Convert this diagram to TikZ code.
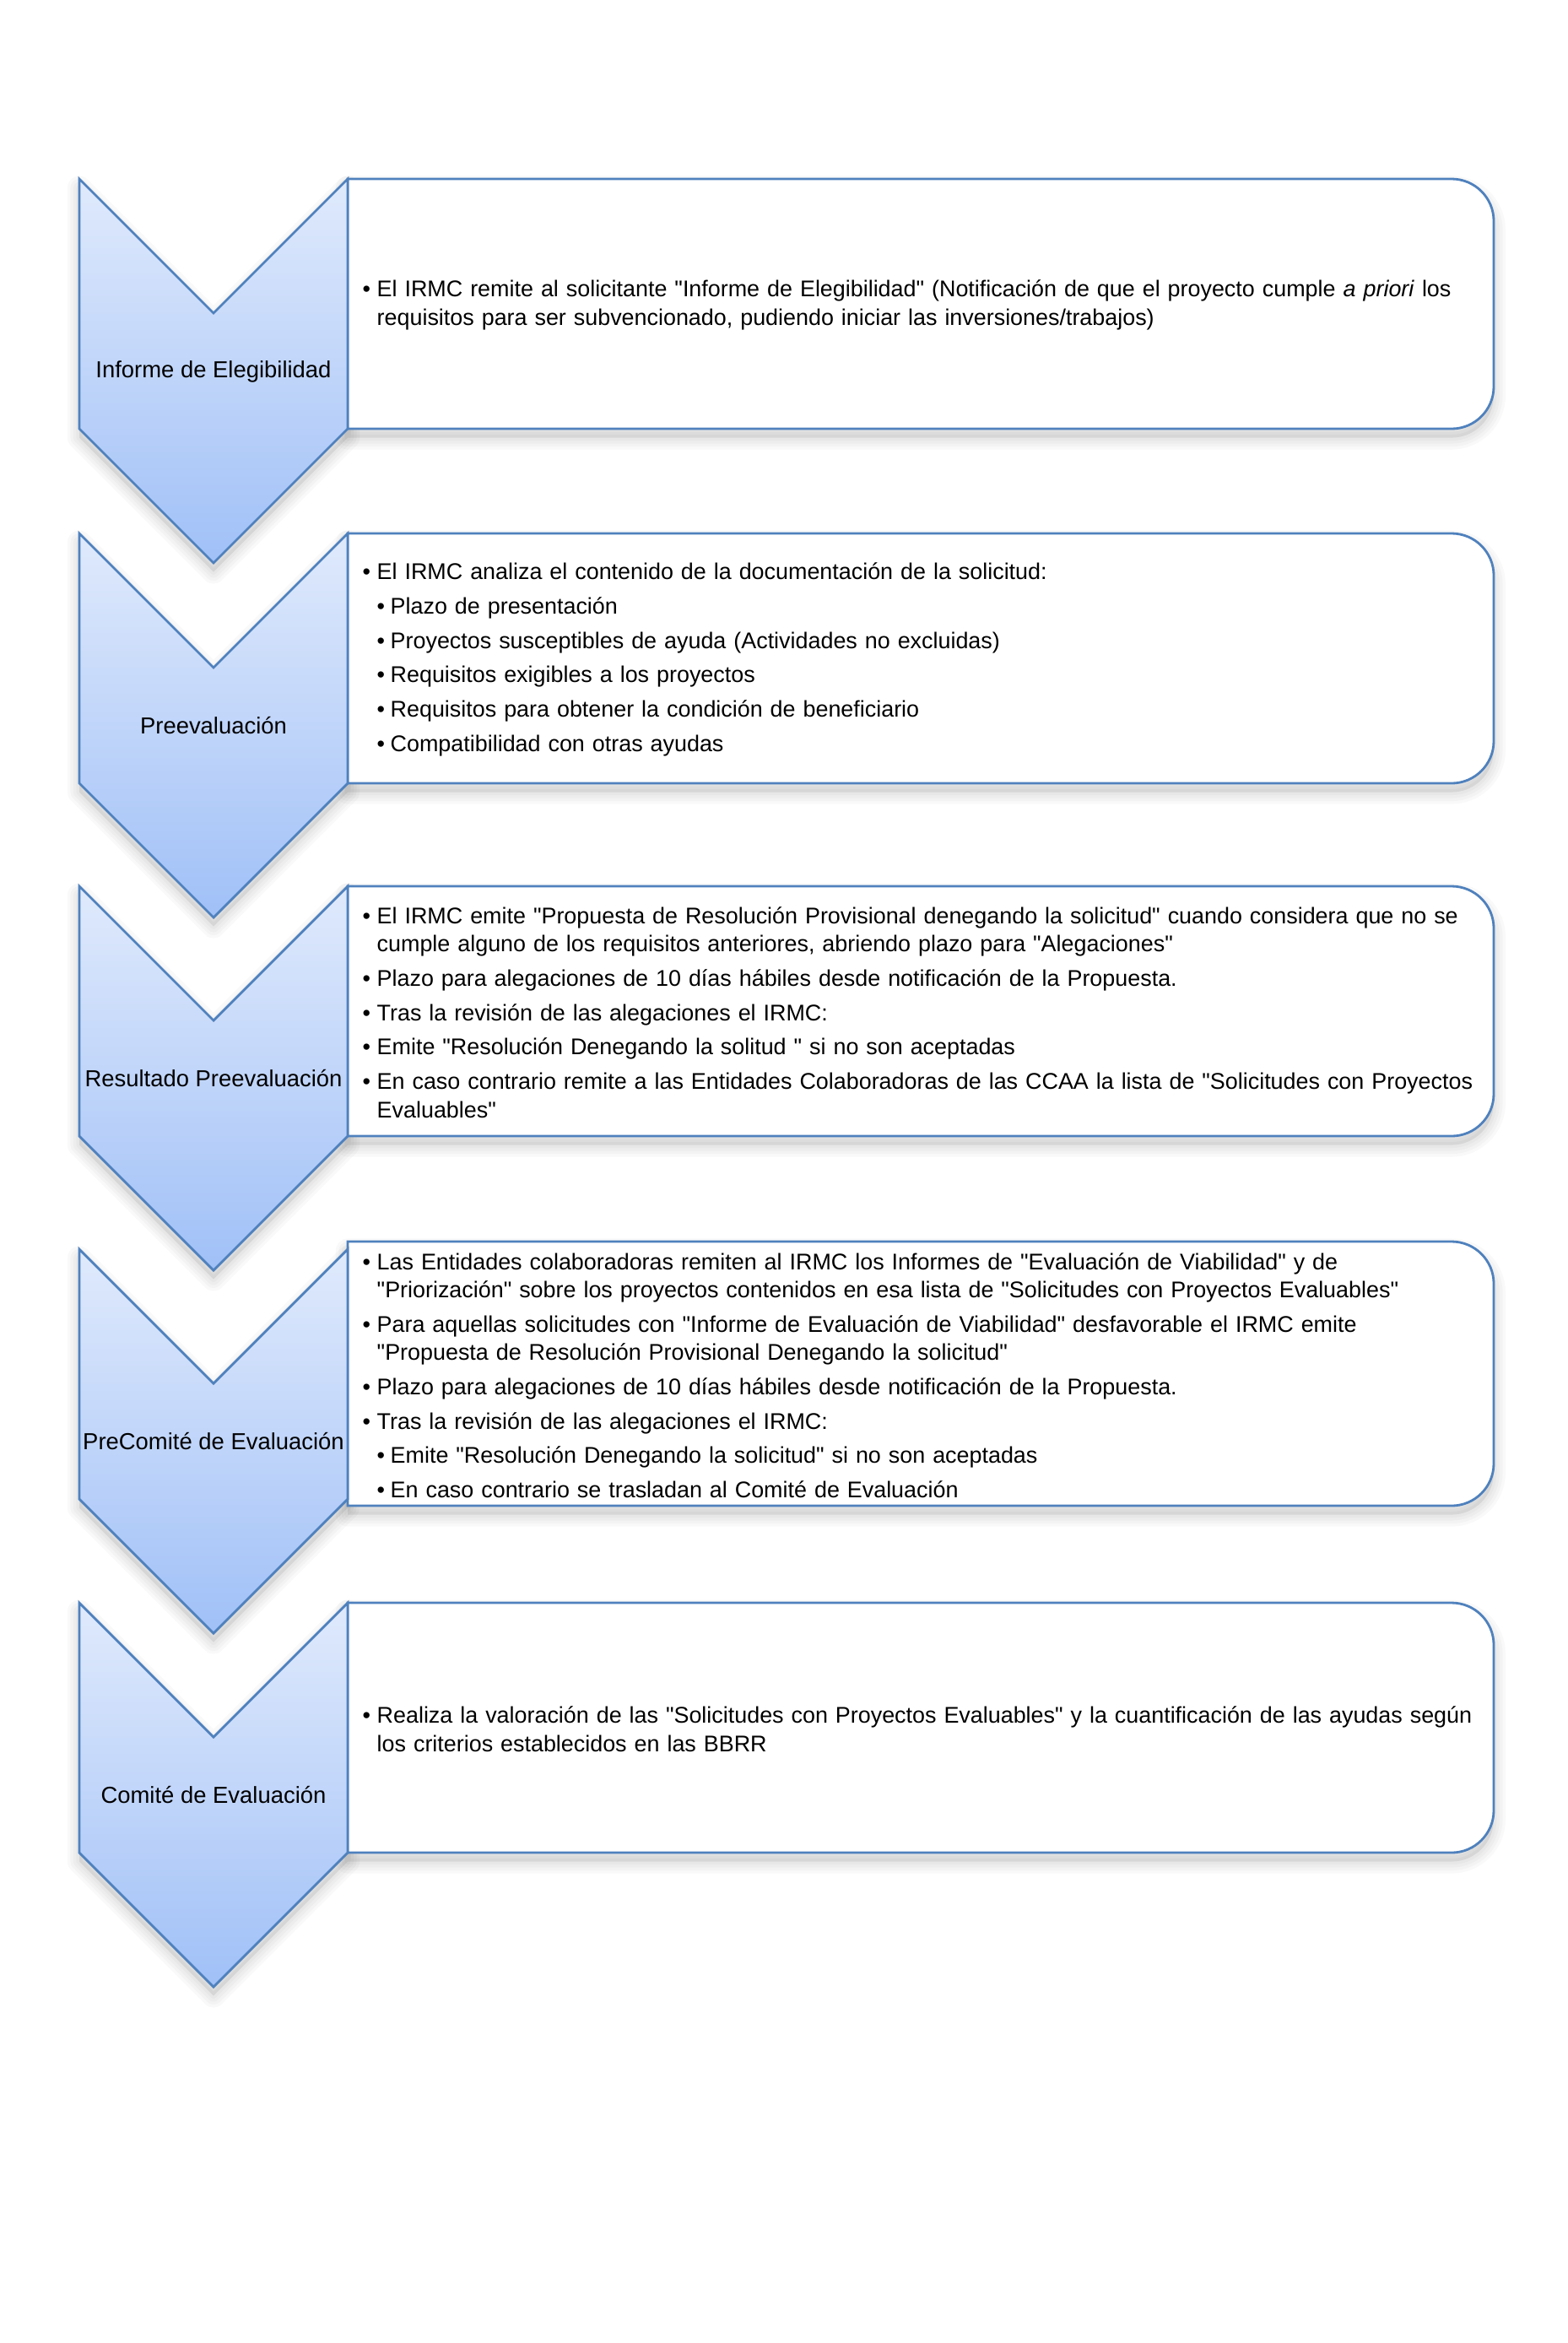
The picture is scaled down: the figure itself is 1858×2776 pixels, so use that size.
\documentclass[tikz,border=0pt]{standalone}
\usepackage{fontspec}
\setmainfont{Liberation Sans}[Ligatures=TeXOff]
\definecolor{edgeblue}{RGB}{79,129,189}
\definecolor{ctop}{RGB}{224,234,252}
\definecolor{cbot}{RGB}{160,192,247}
\newcommand{\bi}[1]{\par\hangindent=0.17cm\hangafter=1\noindent\makebox[0.17cm][l]{•}#1\par}
\newcommand{\bii}[1]{\par\hangindent=0.33cm\hangafter=1\noindent\hspace*{0.17cm}\makebox[0.16cm][l]{•}#1\par}
\newcommand{\chevp}[1]{(94,#1) -- (253,#1+159) -- (412,#1) -- (412,#1+296) -- (253,#1+455) -- (94,#1+296) -- cycle}
\newcommand{\boxpth}[2]{(412,#1) -- (1720,#1) arc[start angle=90,end angle=0,radius=0.5cm] -- (1770,#2-50) arc[start angle=0,end angle=-90,radius=0.5cm] -- (412,#2) -- cycle}
\newcommand{\shad}[1]{%
  \foreach \w in {2,4,6,8}{\draw[black,opacity=0.025,line width=\w pt,line join=round,shift={(0pt,-3pt)}] #1;}%
  \fill[black,opacity=0.07,shift={(0pt,-3pt)}] #1;}
\tikzset{
  chevshape/.style={draw=edgeblue,line width=0.8pt,line join=miter,top color=ctop,bottom color=cbot},
  boxshape/.style={draw=edgeblue,line width=0.8pt,fill=white},
  lbl/.style={inner sep=0pt,font=\fontsize{7.8pt}{9.56pt}\selectfont,align=center},
  body/.style={inner sep=0pt,anchor=west,text width=13.8cm,align=left,
    font=\fontsize{7.65pt}{9.56pt}\selectfont\setlength{\parskip}{0.07cm}}
}
\begin{document}
\begin{tikzpicture}[x=0.01cm,y=-0.01cm]
\useasboundingbox[fill=white] (0,0) rectangle (1858,2776);
% shadows
\shad{\boxpth{212}{508}}
\shad{\boxpth{632}{928}}
\shad{\boxpth{1050}{1346}}
\shad{\boxpth{1471}{1784}}
\shad{\boxpth{1899}{2195}}
\shad{\chevp{212}}
\shad{\chevp{632}}
\shad{\chevp{1050}}
\shad{\chevp{1480}}
\shad{\chevp{1899}}
% boxes
\path[boxshape] \boxpth{212}{508};
\path[boxshape] \boxpth{632}{928};
\path[boxshape] \boxpth{1050}{1346};
\path[boxshape] \boxpth{1471}{1784};
\path[boxshape] \boxpth{1899}{2195};
% chevrons
\path[chevshape] \chevp{212};
\path[chevshape] \chevp{632};
\path[chevshape] \chevp{1050};
\path[chevshape] \chevp{1480};
\path[chevshape] \chevp{1899};
% labels
\node[lbl] (l1) at (253,440) {Informe de Elegibilidad};
\node[lbl] (l2) at (253,860) {Preevaluación};
\node[lbl] (l3) at (253,1278) {Resultado Preevaluación};
\node[lbl] (l4) at (253,1708) {PreComité de Evaluación};
\node[lbl] (l5) at (253,2127) {Comité de Evaluación};
% texts
\node[body] (t1) at (429,351) {%
\bi{El IRMC remite al solicitante "Informe de Elegibilidad" (Notificación de que el proyecto cumple \textit{a priori} los\newline requisitos para ser subvencionado, pudiendo iniciar las inversiones/trabajos)}};
\node[body] (t2) at (429,771) {%
\bi{El IRMC analiza el contenido de la documentación de la solicitud:}
\bii{Plazo de presentación}
\bii{Proyectos susceptibles de ayuda (Actividades no excluidas)}
\bii{Requisitos exigibles a los proyectos}
\bii{Requisitos para obtener la condición de beneficiario}
\bii{Compatibilidad con otras ayudas}};
\node[body] (t3) at (429,1189) {%
\bi{El IRMC emite "Propuesta de Resolución Provisional denegando la solicitud" cuando considera que no se\newline cumple alguno de los requisitos anteriores, abriendo plazo para "Alegaciones"}
\bi{Plazo para alegaciones de 10 días hábiles desde notificación de la Propuesta.}
\bi{Tras la revisión de las alegaciones el IRMC:}
\bi{Emite "Resolución Denegando la solitud " si no son aceptadas}
\bi{En caso contrario remite a las Entidades Colaboradoras de las CCAA la lista de "Solicitudes con Proyectos\newline Evaluables"}};
\node[body] (t4) at (429,1619) {%
\bi{Las Entidades colaboradoras remiten al IRMC los Informes de "Evaluación de Viabilidad" y de\newline "Priorización" sobre los proyectos contenidos en esa lista de "Solicitudes con Proyectos Evaluables"}
\bi{Para aquellas solicitudes con "Informe de Evaluación de Viabilidad" desfavorable el IRMC emite\newline "Propuesta de Resolución Provisional Denegando la solicitud"}
\bi{Plazo para alegaciones de 10 días hábiles desde notificación de la Propuesta.}
\bi{Tras la revisión de las alegaciones el IRMC:}
\bii{Emite "Resolución Denegando la solicitud" si no son aceptadas}
\bii{En caso contrario se trasladan al Comité de Evaluación}};
\node[body] (t5) at (429,2038) {%
\bi{Realiza la valoración de las "Solicitudes con Proyectos Evaluables" y la cuantificación de las ayudas según\newline los criterios establecidos en las BBRR}};
\end{tikzpicture}
\end{document}
